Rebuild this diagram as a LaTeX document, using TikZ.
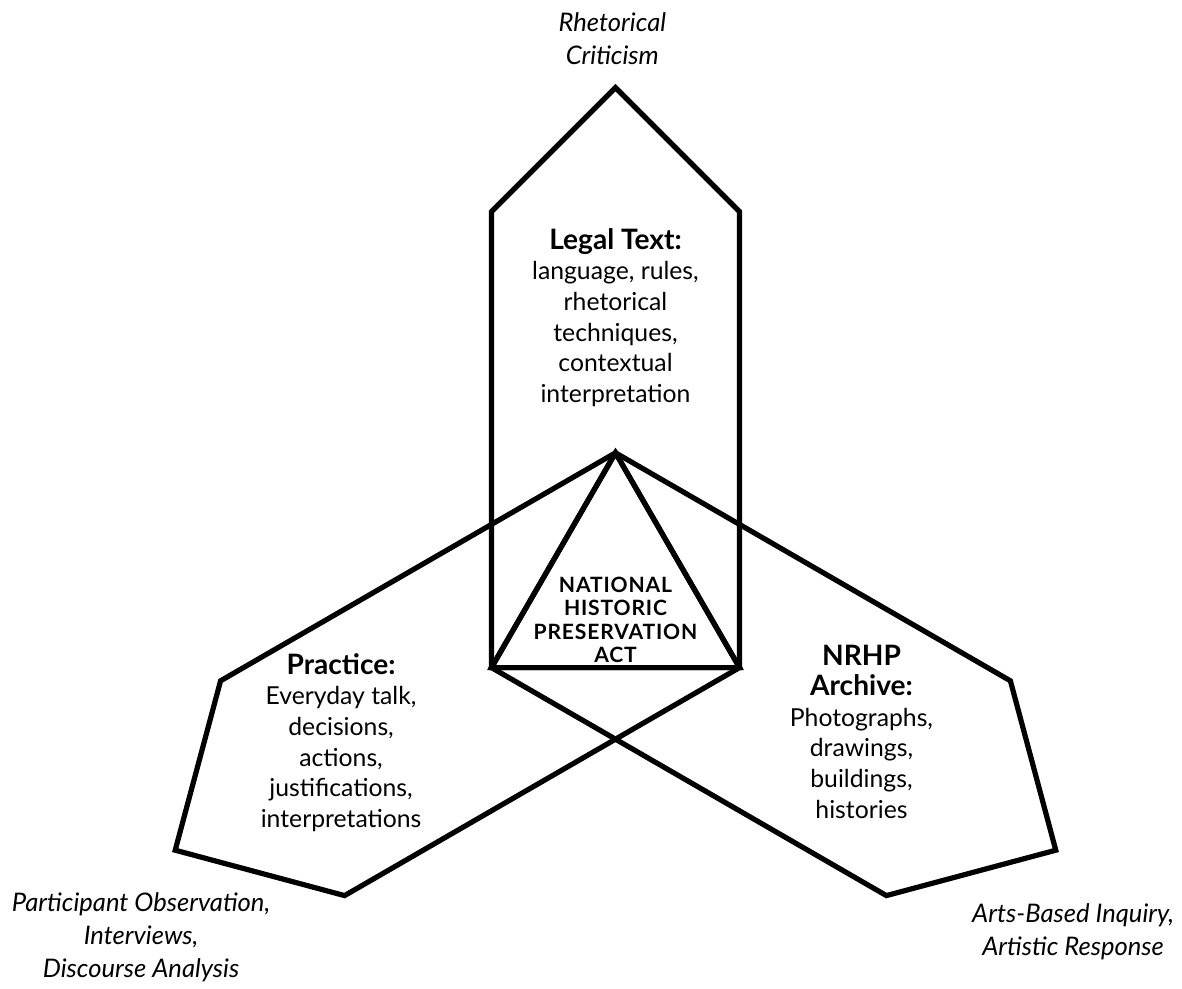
\documentclass[tikz,border=0pt]{standalone}
\usepackage{fontspec}
\setmainfont{Lato}
\usepackage{tikz}
\newcommand{\areahead}[1]{{\fontsize{20}{21.8}\selectfont\bfseries #1}}

\begin{document}
\begin{tikzpicture}[
    house/.style={line width=3.7pt, line join=miter},
    area/.style={align=center, font=\fontsize{17.6}{21.8}\selectfont},
    method/.style={align=center, font=\fontsize{18.2}{23.5}\selectfont\itshape},
    act/.style={align=center, font=\fontsize{15}{16.6}\selectfont\bfseries\addfontfeature{LetterSpace=4}}]
    % frame %
    \useasboundingbox (-15.3875,-9.8) rectangle (14.1625,14.9);

    % three houses round the triangle %
    \draw [house] (-3.1,-1.79) -- (3.1,-1.79) -- (3.1,9.61) -- (0,12.71) -- (-3.1,9.61) -- cycle;
    \draw [house,rotate around={120:(0,0)}] (-3.1,-1.79) -- (3.1,-1.79) -- (3.1,9.61) -- (0,12.71) -- (-3.1,9.61) -- cycle;
    \draw [house,rotate around={-120:(0,0)}] (-3.1,-1.79) -- (3.1,-1.79) -- (3.1,9.61) -- (0,12.71) -- (-3.1,9.61) -- cycle;
    \draw [house] (-3.1,-1.79) -- (3.1,-1.79) -- (0,3.58) -- cycle;

    % labels %
    \node [act] (nhpa) at (0,-0.6) {NATIONAL\\HISTORIC\\PRESERVATION\\ACT};
    \node [area] (legal) at (0,6.96) {\areahead{Legal Text:}\\language, rules,\\rhetorical\\techniques,\\contextual\\interpretation};
    \node [area] (practice) at (-6.86,-3.66) {\areahead{Practice:}\\Everyday talk,\\decisions,\\actions,\\justifications,\\interpretations};
    \node [area] (nrhp) at (6.15,-3.39) {\areahead{NRHP}\\\areahead{Archive:}\\Photographs,\\drawings,\\buildings,\\histories};
    \node [method] (crit) at (-0.08,13.94) {Rhetorical\\Criticism};
    \node [method] (obs) at (-11.86,-8.525) {Participant Observation,\\Interviews,\\Discourse Analysis};
    \node [method] (arts) at (11.44,-8.39) {Arts-Based Inquiry,\\Artistic Response};
\end{tikzpicture}
\end{document}
